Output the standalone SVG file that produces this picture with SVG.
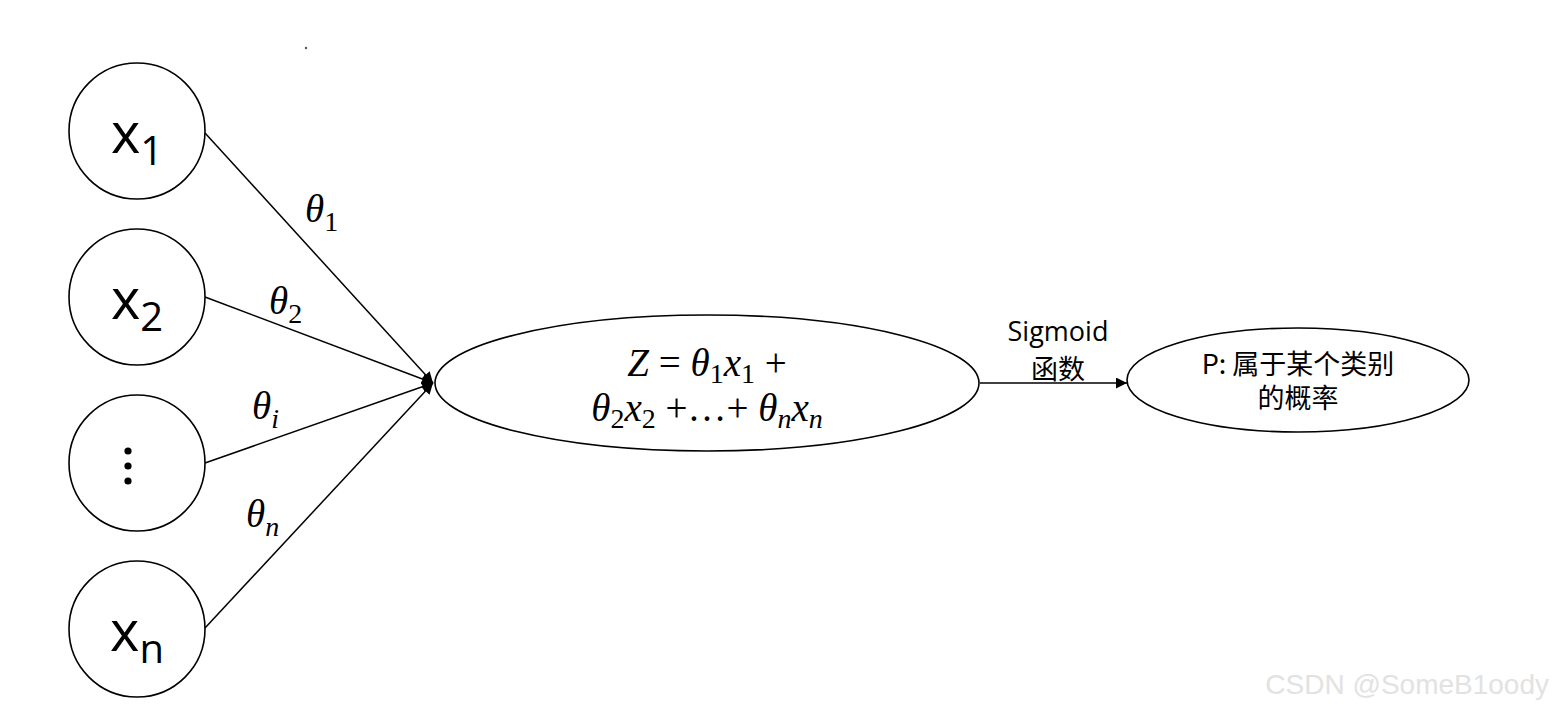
<svg xmlns="http://www.w3.org/2000/svg" width="1556" height="710" viewBox="0 0 1556 710">
<style>
.node{fill:#fff;stroke:#000;stroke-width:1.6}
.edge{fill:none;stroke:#000;stroke-width:1.5}
.var{font-family:"Open Sans","Noto Sans","DejaVu Sans",sans-serif;font-size:56px;fill:#000}
.sub{font-size:40px}
.math{font-family:"Liberation Serif","DejaVu Serif",serif;font-style:italic;font-size:39px;fill:#000}
.msub{font-size:28px;font-style:normal}
.msubi{font-size:28px}
.lbl{font-family:"Open Sans","Noto Sans","Noto Sans CJK SC",sans-serif;font-size:27px;fill:#000}
.cjk{font-family:"Noto Sans CJK SC","Open Sans",sans-serif;font-size:27px;fill:#000}
.wm{font-family:"Liberation Sans",Arial,sans-serif;font-size:28px;fill:#e2e2e2}
</style>
<defs>
<marker id="arr" viewBox="0 0 10 10" refX="10" refY="5" markerWidth="13" markerHeight="11" markerUnits="userSpaceOnUse" orient="auto">
<path d="M0,0 L10,5 L0,10 z" fill="#000"/>
</marker>
</defs>
<rect width="1556" height="710" fill="#fff"/>
<circle cx="306" cy="48" r="1.2" fill="#555"/>
<g id="connectors">
<line class="edge" x1="205" y1="133" x2="433" y2="383" marker-end="url(#arr)"/>
<line class="edge" x1="205" y1="297" x2="433" y2="383" marker-end="url(#arr)"/>
<line class="edge" x1="205" y1="463" x2="433" y2="383" marker-end="url(#arr)"/>
<line class="edge" x1="205" y1="628" x2="433" y2="383" marker-end="url(#arr)"/>
<line class="edge" x1="980" y1="383" x2="1127" y2="383" marker-end="url(#arr)"/>
<text class="math" x="305" y="222">θ<tspan class="msub" dy="9">1</tspan></text>
<text class="math" x="269" y="314">θ<tspan class="msub" dy="9">2</tspan></text>
<text class="math" x="252" y="419">θ<tspan class="msubi" dy="9">i</tspan></text>
<text class="math" x="246" y="527">θ<tspan class="msubi" dy="9">n</tspan></text>
<text class="lbl" x="1058" y="341" text-anchor="middle">Sigmoid</text>
<text class="cjk" x="1058" y="379" text-anchor="middle">函数</text>
</g>
<g id="x1">
<circle class="node" cx="137" cy="131" r="68"/>
<text class="var" x="137" y="153" text-anchor="middle">x<tspan class="sub" dy="12">1</tspan></text>
</g>
<g id="x2">
<circle class="node" cx="137" cy="297" r="68"/>
<text class="var" x="137" y="319" text-anchor="middle">x<tspan class="sub" dy="12">2</tspan></text>
</g>
<g id="xi">
<circle class="node" cx="137" cy="463" r="68"/>
<circle cx="128" cy="451" r="3.6" fill="#000"/>
<circle cx="128" cy="466" r="3.6" fill="#000"/>
<circle cx="128" cy="481" r="3.6" fill="#000"/>
</g>
<g id="xn">
<circle class="node" cx="137" cy="629" r="68"/>
<text class="var" x="137" y="651" text-anchor="middle">x<tspan class="sub" dy="12">n</tspan></text>
</g>
<g id="sum">
<ellipse class="node" cx="707" cy="383" rx="272" ry="68"/>
<text class="math" x="707" y="376" text-anchor="middle"><tspan font-style="italic">Z</tspan><tspan font-style="normal"> = </tspan>θ<tspan class="msub" dy="7">1</tspan><tspan dy="-7">x</tspan><tspan class="msub" dy="7">1</tspan><tspan font-style="normal" dy="-7"> +</tspan></text>
<text class="math" x="707" y="421" text-anchor="middle">θ<tspan class="msub" dy="7">2</tspan><tspan dy="-7">x</tspan><tspan class="msub" dy="7">2</tspan><tspan font-style="normal" dy="-7"> +…+ </tspan>θ<tspan class="msubi" dy="7">n</tspan><tspan dy="-7">x</tspan><tspan class="msubi" dy="7">n</tspan></text>
</g>
<g id="prob">
<ellipse class="node" cx="1298" cy="380" rx="171" ry="52"/>
<text class="cjk" x="1298" y="374" text-anchor="middle">P: 属于某个类别</text>
<text class="cjk" x="1298" y="408" text-anchor="middle">的概率</text>
</g>
<text class="wm" x="1549" y="694" text-anchor="end">CSDN @SomeB1oody</text>
</svg>
